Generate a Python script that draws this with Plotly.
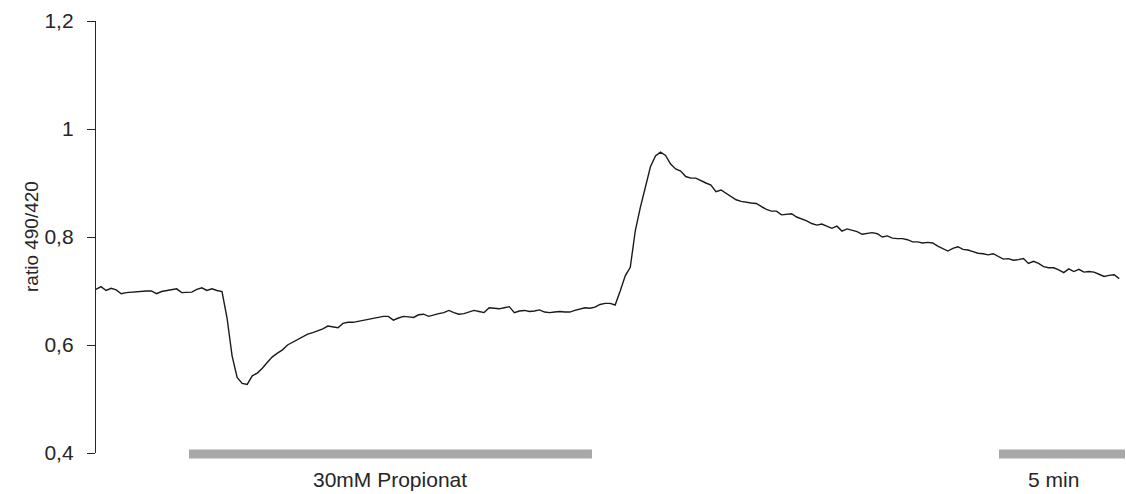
import numpy as np
import plotly.graph_objects as go

# Sampling interval of the recording (minutes)
dt_min = 0.2

# Fluorescence ratio 490/420 over time
ratio = [
    0.703, 0.708, 0.701, 0.705, 0.702, 0.695, 0.697, 0.698, 0.699, 0.700,
    0.700, 0.700, 0.695, 0.699, 0.701, 0.702, 0.704, 0.697, 0.698, 0.698,
    0.703, 0.706, 0.701, 0.704, 0.701, 0.699, 0.650, 0.580, 0.540, 0.529,
    0.527, 0.543, 0.548, 0.557, 0.568, 0.578, 0.585, 0.591, 0.600, 0.605,
    0.609, 0.614, 0.620, 0.623, 0.626, 0.630, 0.635, 0.634, 0.632, 0.640,
    0.642, 0.642, 0.644, 0.646, 0.648, 0.650, 0.651, 0.653, 0.653, 0.646,
    0.650, 0.653, 0.652, 0.651, 0.656, 0.657, 0.653, 0.656, 0.658, 0.660,
    0.664, 0.660, 0.657, 0.658, 0.661, 0.664, 0.662, 0.660, 0.669, 0.668,
    0.667, 0.669, 0.671, 0.660, 0.663, 0.664, 0.662, 0.663, 0.665, 0.661,
    0.660, 0.661, 0.662, 0.661, 0.661, 0.664, 0.666, 0.669, 0.668, 0.670,
    0.675, 0.677, 0.677, 0.674, 0.700, 0.728, 0.744, 0.812, 0.855, 0.890,
    0.930, 0.950, 0.957, 0.951, 0.935, 0.926, 0.922, 0.912, 0.909, 0.909,
    0.904, 0.900, 0.896, 0.884, 0.887, 0.881, 0.875, 0.869, 0.866, 0.864,
    0.863, 0.862, 0.856, 0.851, 0.848, 0.848, 0.841, 0.842, 0.843, 0.837,
    0.834, 0.830, 0.825, 0.822, 0.824, 0.820, 0.816, 0.820, 0.811, 0.815,
    0.812, 0.810, 0.805, 0.807, 0.808, 0.806, 0.800, 0.802, 0.798, 0.797,
    0.797, 0.795, 0.791, 0.791, 0.789, 0.790, 0.789, 0.783, 0.778, 0.774,
    0.779, 0.782, 0.777, 0.776, 0.773, 0.770, 0.769, 0.767, 0.769, 0.764,
    0.759, 0.760, 0.757, 0.758, 0.760, 0.751, 0.755, 0.751, 0.745, 0.743,
    0.743, 0.739, 0.734, 0.741, 0.736, 0.740, 0.735, 0.736, 0.735, 0.731,
    0.727, 0.729, 0.730, 0.723,
]
time_min = np.arange(len(ratio)) * dt_min

# Propionate application window (minutes) and time scale bar
stim_start, stim_end = 3.69, 19.68
stim_label = "30mM Propionat"
scale_start, scale_len = 35.83, 5.0
scale_label = "5 min"

# y axis ticks (German decimal comma)
y_tickvals = [0.4, 0.6, 0.8, 1.0, 1.2]
y_ticktext = ["0,4", "0,6", "0,8", "1", "1,2"]
y_title = "ratio 490/420"

FONT = "Liberation Sans, Arial, sans-serif"
INK = "#262626"
BAR = "#a8a8a8"
PLOT_W = 1030  # plot area width in px (1126 minus left margin)

fig = go.Figure()
fig.add_trace(go.Scatter(
    x=time_min, y=ratio, mode="lines",
    line=dict(color="#1a1a1a", width=1.4),
    showlegend=False, hoverinfo="skip",
))

# Grey bars under the trace (x in data units, just below the plot floor)
for x0, x1 in [(stim_start, stim_end), (scale_start, scale_start + scale_len)]:
    fig.add_shape(type="rect", xref="x", yref="paper",
                  x0=x0, x1=x1, y0=-0.013, y1=0.008,
                  fillcolor=BAR, line=dict(width=0), layer="above")

fig.add_annotation(x=(stim_start + stim_end) / 2, xref="x",
                   y=-0.062, yref="paper", text=stim_label, showarrow=False,
                   font=dict(family=FONT, size=21, color=INK), yanchor="middle")
fig.add_annotation(x=scale_start + scale_len / 2 - 0.35, xref="x",
                   y=-0.062, yref="paper", text=scale_label, showarrow=False,
                   font=dict(family=FONT, size=21, color=INK), yanchor="middle")

# Rotated y-axis title placed beside the tick labels
fig.add_annotation(x=-65 / PLOT_W, xref="paper", y=0.5, yref="paper",
                   text=y_title, textangle=-90, showarrow=False,
                   xanchor="center", yanchor="middle",
                   font=dict(family=FONT, size=19, color=INK))

fig.update_layout(
    width=1126, height=494,
    margin=dict(l=96, r=0, t=21, b=41),
    paper_bgcolor="white", plot_bgcolor="white",
    font=dict(family=FONT, size=19, color=INK),
    xaxis=dict(range=[0, 40.87], visible=False, showgrid=False, zeroline=False),
    yaxis=dict(
        range=[0.4, 1.2], tickvals=y_tickvals, ticktext=y_ticktext,
        ticks="outside", ticklen=8, tickwidth=1.3, tickcolor=INK,
        ticklabelstandoff=9,
        showline=True, linecolor=INK, linewidth=1.3,
        showgrid=False, zeroline=False,
        tickfont=dict(family=FONT, size=21, color=INK),
    ),
)

fig.write_html("out.html")
